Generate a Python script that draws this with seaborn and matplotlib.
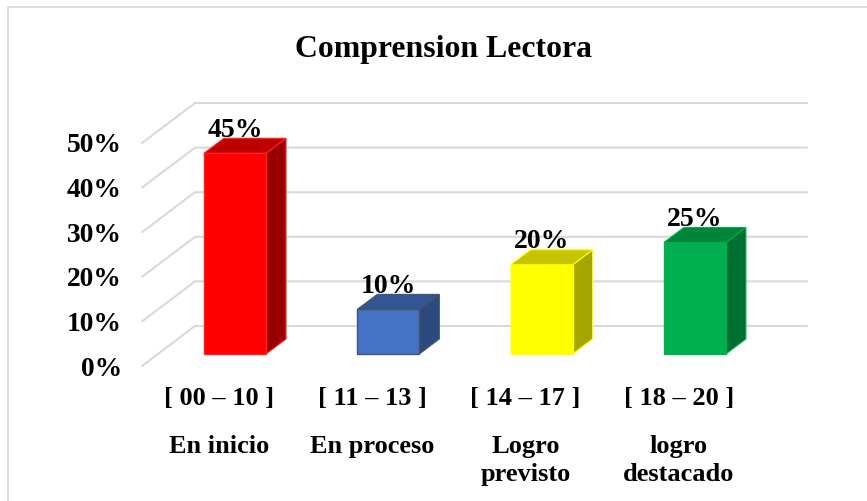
import matplotlib
matplotlib.use("Agg")
import matplotlib.pyplot as plt
from matplotlib.patches import Polygon, Rectangle
import pandas as pd
import seaborn as sns

title = "Comprension Lectora"
ranges = ["[ 00 – 10 ]", "[ 11 – 13 ]", "[ 14 – 17 ]", "[ 18 – 20 ]"]
levels = ["En inicio", "En proceso", "Logro\nprevisto", "logro\ndestacado"]
values = [45, 10, 20, 25]
y_ticks = [0, 10, 20, 30, 40, 50]
y_labels = ["0%", "10%", "20%", "30%", "40%", "50%"]
front_colors = ["#ff0000", "#4472c4", "#ffff00", "#00b050"]
edge_colors = ["#ff2020", "#44546a", "#ffff00", "#00b050"]
top_colors = ["#bf0000", "#335593", "#c4c400", "#008438"]
side_colors = ["#990000", "#2c4a7e", "#a6a600", "#006f32"]
GRID = "#d9d9d9"

W, H = 867, 501
sns.set_theme(style="white")
plt.rcParams["font.family"] = ["Liberation Serif", "DejaVu Serif"]
plt.rcParams["font.weight"] = "bold"

fig = plt.figure(figsize=(W / 100, H / 100), dpi=100, facecolor="white")
ax = fig.add_axes([142 / W, (H - 366) / H, 612 / W, 223 / H])

df = pd.DataFrame({"range": ranges, "value": values})
sns.barplot(data=df, x="range", y="value", hue="range", palette=front_colors,
            width=62 / 153.3, legend=False, ax=ax, zorder=3, saturation=1)

xmin, xmax = (142 - 235) / 153.3, (754 - 235) / 153.3
ax.set_xlim(xmin, xmax)
ax.set_ylim(0, 50)

px_x = 1 / 153.3      # x units per pixel
px_y = 50 / 223       # y units per pixel
wall_dx, wall_dy = 53 * px_x, 40 * px_y
bar_dx, bar_dy = 20 * px_x, 15 * px_y
floor = 12 * px_y

# back wall and side wall grid
for v in y_ticks:
    ax.plot([xmin, xmin + wall_dx, xmax + wall_dx], [v, v + wall_dy, v + wall_dy],
            color=GRID, lw=1.5, clip_on=False, zorder=1, solid_joinstyle="miter")

# extruded bars
for i, p in enumerate(ax.patches):
    v = values[i]
    p.set_y(floor)
    p.set_clip_on(False)
    p.set_edgecolor(edge_colors[i])
    p.set_linewidth(1.0)
    x0, x1 = p.get_x(), p.get_x() + p.get_width()
    top = floor + v
    ax.add_patch(Polygon([(x1, floor), (x1 + bar_dx, floor + bar_dy),
                          (x1 + bar_dx, top + bar_dy), (x1, top)],
                         fc=side_colors[i], ec=edge_colors[i], lw=0.8,
                         clip_on=False, zorder=2.5))
    ax.add_patch(Polygon([(x0, top), (x0 + bar_dx, top + bar_dy),
                          (x1 + bar_dx, top + bar_dy), (x1, top)],
                         fc=top_colors[i], ec=edge_colors[i], lw=0.8,
                         clip_on=False, zorder=2.5))
    ax.annotate(f"{v}%", xy=(i, top), xytext=(0, 12.0), textcoords="offset points",
                ha="center", va="baseline", fontsize=20, fontweight="bold",
                color="black", zorder=5, annotation_clip=False)

# axes text
ax.set_yticks(y_ticks, y_labels)
label_pos = [i - 16 * px_x for i in range(len(ranges))]
ax.xaxis.remove_overlapping_locs = False
ax.set_xticks(label_pos, ranges)
ax.set_xticks(label_pos, levels, minor=True, linespacing=1.3)
ax.tick_params(axis="y", length=0, pad=14.5, labelsize=19.8, labelcolor="black")
ax.tick_params(axis="x", which="major", length=0, pad=15, labelsize=19, labelcolor="black")
ax.tick_params(axis="x", which="minor", length=0, pad=49.5, labelsize=19, labelcolor="black")
for t in ax.get_xticklabels(which="both") + ax.get_yticklabels():
    t.set_fontweight("bold")
ax.set_xlabel("")
ax.set_ylabel("")
ax.set_frame_on(False)
ax.patch.set_visible(False)

fig.text(444 / W, 1 - 49 / H, title, ha="center", va="center",
         fontsize=22.9, fontweight="bold", color="black")

# chart frame
fig.add_artist(Rectangle((8 / W, -0.02), (W + 20) / W, 1 - 6.5 / H + 0.02,
                         transform=fig.transFigure, fc="none", ec=GRID, lw=1.3))

fig.savefig("out.png", dpi=100, facecolor="white")
